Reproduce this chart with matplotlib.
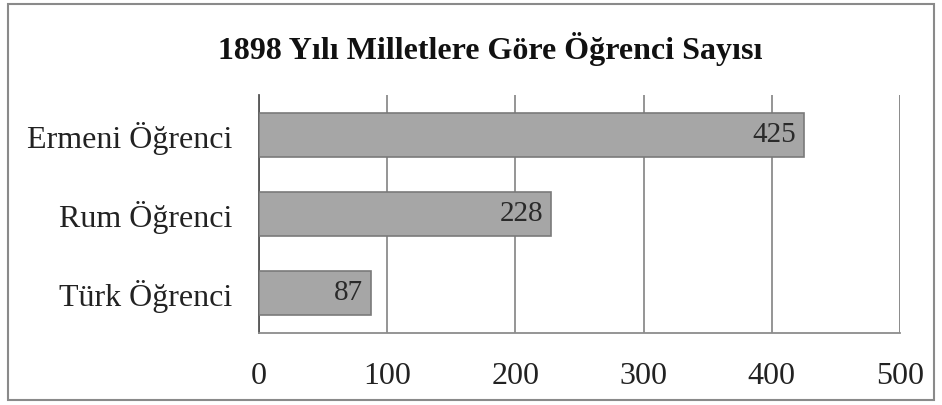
import matplotlib.pyplot as plt
from matplotlib.patches import Rectangle

# Veriler
kategoriler = ["Türk Öğrenci", "Rum Öğrenci", "Ermeni Öğrenci"]
degerler = [87, 228, 425]
x_ticks = [0, 100, 200, 300, 400, 500]
baslik = "1898 Yılı Milletlere Göre Öğrenci Sayısı"

plt.rcParams['font.family'] = ['Liberation Serif', 'DejaVu Serif']

fig = plt.figure(figsize=(9.42, 4.05), dpi=100)
ax = fig.add_axes([0.275, 0.178, 0.6805, 0.587])

# Cerceve
fig.patches.append(Rectangle((0.009, 0.012), 0.982, 0.978, transform=fig.transFigure,
                             fill=False, edgecolor='#8a8a8a', linewidth=1.5))

ypos = range(len(kategoriler))
bars = ax.barh(ypos, degerler, height=0.56, color='#a6a6a6',
               edgecolor='#7a7a7a', linewidth=1.2, zorder=3)

for b, v in zip(bars, degerler):
    ax.text(b.get_width() - 6, b.get_y() + b.get_height() / 2, str(v),
            ha='right', va='center', fontsize=21, color='#2a2a2a', zorder=4)

ax.set_xlim(0, 500)
ax.set_ylim(-0.5, 2.5)
ax.set_xticks(x_ticks)
ax.set_xticklabels([str(t) for t in x_ticks])
ax.set_yticks(list(ypos))
ax.set_yticklabels(kategoriler)
ax.tick_params(axis='x', length=0, pad=21, labelsize=23, colors='#222222')
ax.tick_params(axis='y', length=0, pad=19, labelsize=23, colors='#222222')

ax.grid(axis='x', color='#8c8c8c', linewidth=1.3, zorder=0)
ax.axvline(500, color='#8c8c8c', linewidth=1.3, zorder=0)
for s in ['top', 'right']:
    ax.spines[s].set_visible(False)
ax.spines['left'].set_color('#555555')
ax.spines['left'].set_linewidth(1.3)
ax.spines['bottom'].set_color('#8c8c8c')
ax.spines['bottom'].set_linewidth(1.3)

fig.text(0.52, 0.88, baslik, ha='center', va='center', fontsize=23,
         fontweight='bold', color='#111111')

fig.savefig('out.png', dpi=100)
